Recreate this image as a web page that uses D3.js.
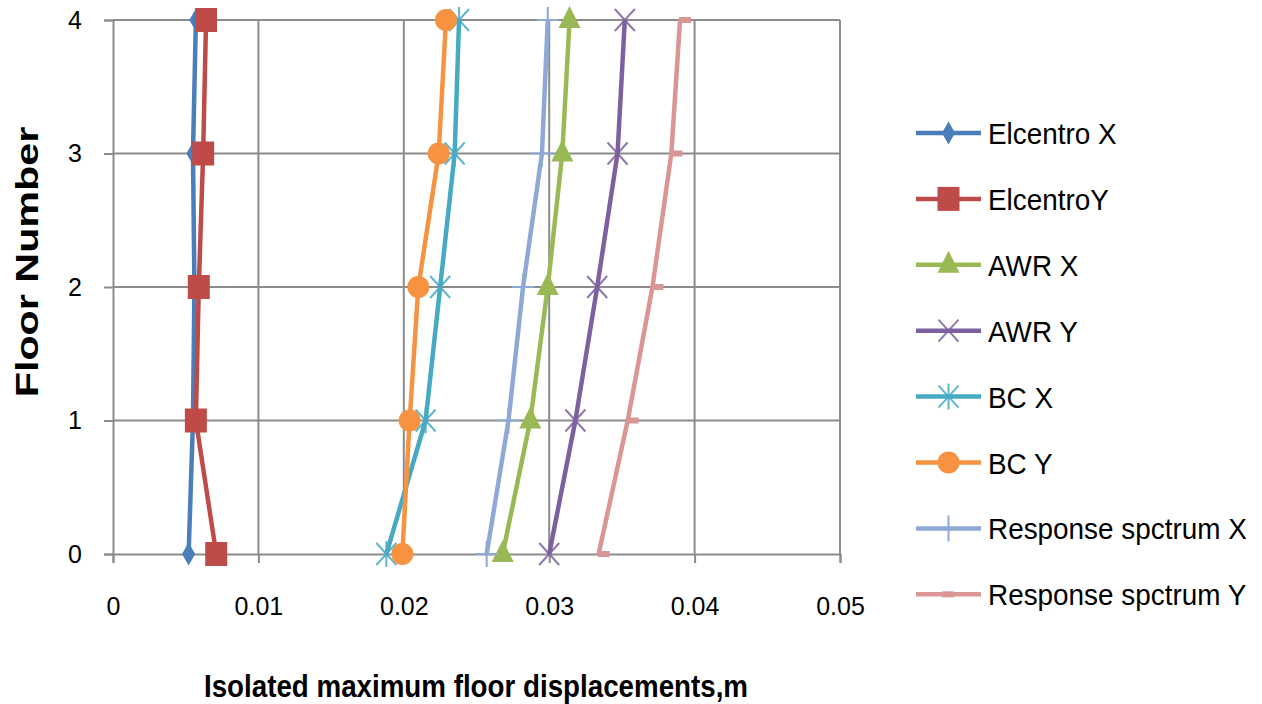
<!DOCTYPE html>
<html>
<head>
<meta charset="utf-8">
<script src="https://cdn.jsdelivr.net/npm/d3@7"></script>
<style>
  html, body { margin: 0; padding: 0; background: #fff; }
  svg { display: block; }
  text { font-family: "Liberation Sans", Arial, sans-serif; fill: #000; }
</style>
</head>
<body>
<svg id="chart" width="1262" height="704"></svg>
<script>
// Floor levels (y axis)
const floors = [0, 1, 2, 3, 4];

// Maximum floor displacements (m) per floor, one array per record
const elcentroX   = [0.0052, 0.0055, 0.0056, 0.0055, 0.0057];
const elcentroY   = [0.0071, 0.0057, 0.0059, 0.0062, 0.0064];
const awrX        = [0.0268, 0.0287, 0.0299, 0.0309, 0.0314];
const awrY        = [0.0300, 0.0318, 0.0333, 0.0347, 0.0352];
const bcX         = [0.0188, 0.0215, 0.0225, 0.0235, 0.0238];
const bcY         = [0.0199, 0.0204, 0.0210, 0.0224, 0.0229];
const respSpecX   = [0.0257, 0.0272, 0.0282, 0.0295, 0.0299];
const respSpecY   = [0.0334, 0.0354, 0.0371, 0.0384, 0.0390];

const seriesNames = ["Elcentro X", "ElcentroY", "AWR X", "AWR Y", "BC X", "BC Y",
                     "Response spctrum X", "Response spctrum Y"];
const seriesValues = [elcentroX, elcentroY, awrX, awrY, bcX, bcY, respSpecX, respSpecY];
const seriesColors = ["#4A7EBB", "#BE4B48", "#98B954", "#7D60A0", "#46AAC5", "#F69240",
                      "#8EA9D6", "#D99694"];
const seriesMarkers = ["diamond", "square", "triangle", "x", "star", "circle", "plus", "dash"];

const xTicks = [0, 0.01, 0.02, 0.03, 0.04, 0.05];
const xTickLabels = ["0", "0.01", "0.02", "0.03", "0.04", "0.05"];
const yTicks = [0, 1, 2, 3, 4];

const svg = d3.select("#chart");
const plot = { left: 113, right: 840, top: 20, bottom: 554 };

const x = d3.scaleLinear().domain([0, 0.05]).range([plot.left, plot.right]);
const y = d3.scaleLinear().domain([0, 4]).range([plot.bottom, plot.top]);

const gridColor = "#8c8c8c";

// Gridlines
svg.append("g").selectAll("line").data(xTicks.slice(1)).join("line")
  .attr("x1", d => x(d)).attr("x2", d => x(d))
  .attr("y1", plot.top).attr("y2", plot.bottom)
  .attr("stroke", gridColor).attr("stroke-width", 2);
svg.append("g").selectAll("line").data(yTicks.slice(1)).join("line")
  .attr("x1", plot.left).attr("x2", plot.right)
  .attr("y1", d => y(d)).attr("y2", d => y(d))
  .attr("stroke", gridColor).attr("stroke-width", 2);

// Axes
const xAxis = d3.axisBottom(x).tickValues(xTicks)
  .tickFormat((d, i) => xTickLabels[i]).tickSize(9).tickPadding(34);
const gx = svg.append("g").attr("transform", `translate(0,${plot.bottom})`).call(xAxis);
gx.select(".domain").attr("stroke", gridColor).attr("stroke-width", 2);
gx.selectAll(".tick line").attr("stroke", gridColor).attr("stroke-width", 2);
gx.selectAll(".tick text").attr("font-size", 25).style("font-family", "'Liberation Sans', Arial, sans-serif");

const yAxis = d3.axisLeft(y).tickValues(yTicks).tickFormat(d3.format("d")).tickSize(9).tickPadding(22);
const gy = svg.append("g").attr("transform", `translate(${plot.left},0)`).call(yAxis);
gy.select(".domain").attr("stroke", gridColor).attr("stroke-width", 2);
gy.selectAll(".tick line").attr("stroke", gridColor).attr("stroke-width", 2);
gy.selectAll(".tick text").attr("font-size", 25).style("font-family", "'Liberation Sans', Arial, sans-serif");

// Axis titles
svg.append("text").attr("transform", "translate(476,697) scale(0.867,1)").attr("text-anchor", "middle")
  .attr("font-size", 32).attr("font-weight", "bold").text("Isolated maximum floor displacements,m");
svg.append("text").attr("transform", "translate(38,262) rotate(-90) scale(1.29,1)").attr("text-anchor", "middle")
  .attr("font-size", 32).attr("font-weight", "bold").text("Floor Number");

// Marker drawing
function drawMarker(g, type, color) {
  switch (type) {
    case "diamond":
      g.append("path").attr("d", d3.symbol(d3.symbolDiamond, 150)()).attr("fill", color);
      break;
    case "square":
      g.append("rect").attr("x", -11).attr("y", -12).attr("width", 22).attr("height", 24).attr("fill", color);
      break;
    case "triangle":
      g.append("path").attr("d", "M0,-14 L11,8 L-11,8 Z").attr("fill", color);
      break;
    case "circle":
      g.append("circle").attr("r", 11).attr("fill", color);
      break;
    case "x":
      g.append("path").attr("d", "M-10,-11 L10,11 M-10,11 L10,-11")
        .attr("stroke", color).attr("stroke-width", 2).attr("opacity", 0.85);
      break;
    case "star":
      g.append("path").attr("d", "M-10,-11 L10,11 M-10,11 L10,-11 M0,-13 L0,13")
        .attr("stroke", color).attr("stroke-width", 2).attr("opacity", 0.85);
      break;
    case "plus":
      g.append("path").attr("d", "M-11,0 L11,0 M0,-13 L0,13")
        .attr("stroke", color).attr("stroke-width", 2);
      break;
    case "dash":
      g.append("rect").attr("x", -1).attr("y", -3).attr("width", 12).attr("height", 6).attr("fill", color);
      break;
  }
}

// Series lines and markers
const line = d3.line().x(d => x(d[0])).y(d => y(d[1]));
seriesValues.forEach((vals, i) => {
  const pts = vals.map((v, k) => [v, floors[k]]);
  const g = svg.append("g");
  g.append("path").attr("d", line(pts)).attr("fill", "none")
    .attr("stroke", seriesColors[i]).attr("stroke-width", 4.5).attr("stroke-linejoin", "round");
  pts.forEach(p => {
    const m = g.append("g").attr("transform", `translate(${x(p[0])},${y(p[1])})`);
    drawMarker(m, seriesMarkers[i], seriesColors[i]);
  });
});

// Legend
const legendTop = 133, legendStep = 65.9;
seriesNames.forEach((name, i) => {
  const ly = legendTop + i * legendStep;
  const g = svg.append("g");
  g.append("line").attr("x1", 916).attr("x2", 981).attr("y1", ly).attr("y2", ly)
    .attr("stroke", seriesColors[i]).attr("stroke-width", 4.5);
  const m = g.append("g").attr("transform", `translate(${seriesMarkers[i] === "dash" ? 943 : 948.5},${ly})`);
  drawMarker(m, seriesMarkers[i], seriesColors[i]);
  g.append("text").attr("transform", `translate(988,${ly + 11}) scale(0.93,1)`)
    .attr("font-size", 30).text(name);
});
</script>
</body>
</html>
